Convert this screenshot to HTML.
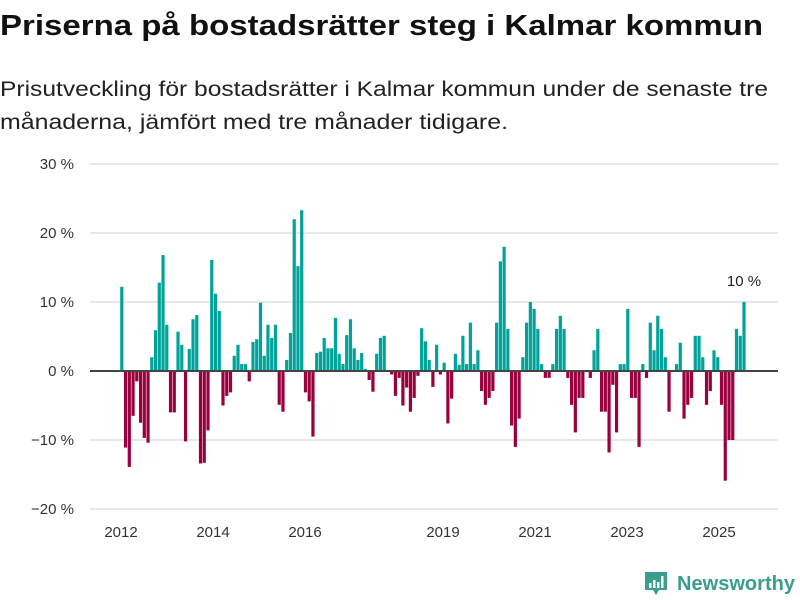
<!DOCTYPE html>
<html><head><meta charset="utf-8"><style>
html,body{margin:0;padding:0;background:#fff;}
svg{display:block;font-family:"Liberation Sans",sans-serif;}
</style></head><body>
<svg id="chart" width="800" height="600" viewBox="0 0 800 600">
<text x="0" y="35" font-size="29" font-weight="bold" fill="#111" textLength="763" lengthAdjust="spacingAndGlyphs">Priserna på bostadsrätter steg i Kalmar kommun</text>
<text x="0" y="96" font-size="21" fill="#222" textLength="768" lengthAdjust="spacingAndGlyphs">Prisutveckling för bostadsrätter i Kalmar kommun under de senaste tre</text>
<text x="0" y="129" font-size="21" fill="#222" textLength="508" lengthAdjust="spacingAndGlyphs">månaderna, jämfört med tre månader tidigare.</text>
<g id="grid"></g>
<g id="yaxis"></g>
<g id="xaxis"></g>
<g id="bars"></g>
<line id="zero" x1="90" x2="778" stroke="#444" stroke-width="2"/>
<text id="anno" font-size="15" fill="#222" text-anchor="middle"></text>
<g>
<path d="M645 572 h22 v18 h-8 l-3 5 l-3 -5 h-8 z" fill="#3a9e8f"/>
<rect x="649" y="583" width="2.5" height="5" fill="#fff"/>
<rect x="653" y="580" width="2.5" height="8" fill="#fff"/>
<rect x="657" y="582" width="2.5" height="6" fill="#fff"/>
<rect x="661" y="576" width="2.5" height="12" fill="#fff"/>
<text x="677" y="590" font-size="20" font-weight="bold" fill="#3a9e8f" textLength="118" lengthAdjust="spacingAndGlyphs">Newsworthy</text>
</g>
</svg>
<script>
const values = [12.2,-11.1,-13.9,-6.5,-1.5,-7.5,-9.7,-10.4,2.0,5.9,12.8,16.8,6.7,-6.0,-6.0,5.7,3.8,-10.2,3.2,7.5,8.1,-13.4,-13.3,-8.6,16.1,11.2,8.7,-5.0,-3.6,-3.1,2.2,3.8,1.0,1.0,-1.5,4.2,4.6,9.9,2.2,6.7,4.8,6.7,-4.9,-5.9,1.6,5.5,22.0,15.2,23.3,-3.1,-4.4,-9.5,2.6,2.8,4.8,3.3,3.3,7.7,2.5,1.0,5.2,7.5,3.3,1.6,2.6,0.3,-1.3,-3.0,2.5,4.8,5.1,0,-0.5,-3.6,-1.0,-5.0,-2.4,-5.9,-3.9,-0.7,6.2,4.3,1.6,-2.3,3.8,-0.5,1.2,-7.6,-4.0,2.5,0.9,5.1,1.0,7.0,1.0,3.0,-2.9,-4.9,-3.9,-2.9,7.0,15.9,18.0,6.1,-7.9,-11.0,-6.9,2.0,7.0,10.0,9.0,6.1,1.0,-1.0,-1.0,1.0,6.1,8.0,6.1,-1.0,-4.9,-8.9,-3.9,-3.9,0,-1.0,3.0,6.1,-5.9,-5.9,-11.8,-2.0,-8.9,1.0,1.0,9.0,-3.9,-3.9,-11.0,1.0,-1.0,7.0,3.0,8.0,6.1,2.0,-5.9,0,1.0,4.1,-6.9,-4.9,-3.9,5.1,5.1,2.0,-4.9,-2.9,3.0,2.0,-4.9,-15.9,-10.0,-10.0,6.1,5.1,10.0];
const yTicks = [30,20,10,0,-10,-20];
const yTickLabels = ["30 %","20 %","10 %","0 %","\u221210 %","\u221220 %"];
const xYears = [2012,2014,2016,2019,2021,2023,2025];
const lastLabel = "10 %";

const NS="http://www.w3.org/2000/svg";
function y(v){return 371 - v*6.9;}
function xBar(i){return 121.8 + i*(744-121.8)/(values.length-1);}
function xYear(yr){return 121 + (yr-2012)*46;}
function mk(tag,attrs,parent){const e=document.createElementNS(NS,tag);for(const k in attrs)e.setAttribute(k,attrs[k]);parent.appendChild(e);return e;}

const grid=document.getElementById('grid'), yaxis=document.getElementById('yaxis'), xaxis=document.getElementById('xaxis'), bars=document.getElementById('bars');
yTicks.forEach((t,k)=>{
  if(t!==0){
    const l=mk('line',{x1:90,x2:778,y1:y(t),y2:y(t),stroke:'#e0e0e0','stroke-width':1.5},grid);
    
    
  }
  const tx=mk('text',{x:74,y:y(t)+5,'font-size':15,fill:'#333','text-anchor':'end'},yaxis);
  tx.textContent=yTickLabels[k];
  
  
});
xYears.forEach(yr=>{
  const tx=mk('text',{x:xYear(yr),y:537,'font-size':15,fill:'#333','text-anchor':'middle'},xaxis);
  tx.textContent=String(yr);
  
  
});
values.forEach((v,i)=>{
  const cx=xBar(i);
  const r=mk('rect',{x:cx-1.6,width:3.2,y:Math.min(y(v),y(0)),height:Math.abs(y(v)-y(0)),fill:v>=0?'#00a39a':'#99003d'},bars);
  
  
});
const z=document.getElementById('zero'); z.setAttribute('y1',y(0)); z.setAttribute('y2',y(0));
const a=document.getElementById('anno');
a.setAttribute('x',xBar(values.length-1)); a.setAttribute('y',y(values[values.length-1])-16);
a.textContent=lastLabel;
</script>
</body></html>
